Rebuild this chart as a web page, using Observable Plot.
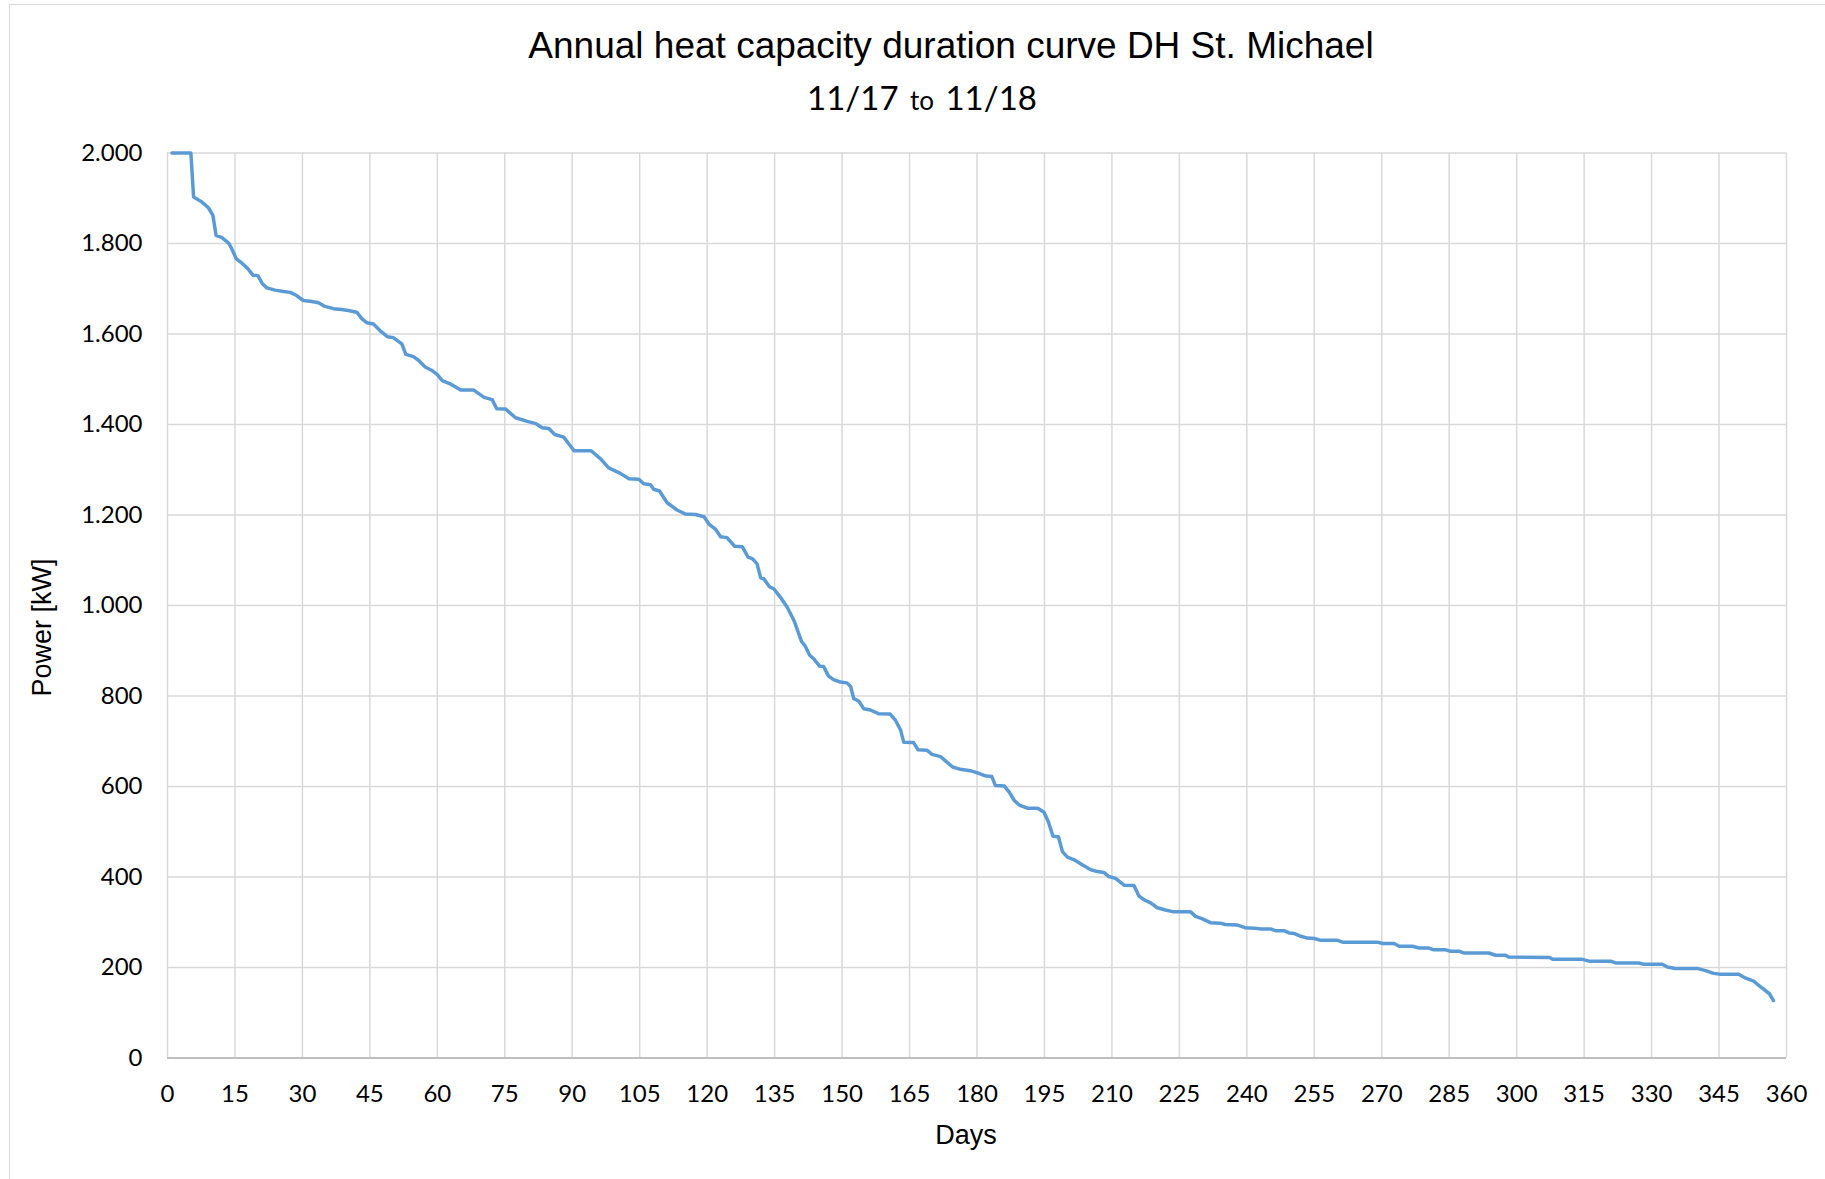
<!DOCTYPE html>
<html>
<head>
<meta charset="utf-8">
<script src="https://cdn.jsdelivr.net/npm/d3@7"></script>
<script src="https://cdn.jsdelivr.net/npm/@observablehq/plot@0.6"></script>
<style>
  html, body { margin: 0; padding: 0; background: #fff; width: 1825px; height: 1179px; overflow: hidden; }
  #frame { position: absolute; left: 9px; top: 4px; width: 1900px; height: 1300px; border-left: 1.5px solid #d9d9d9; border-top: 1.5px solid #d9d9d9; box-sizing: border-box; }
  #title { position: absolute; left: 351px; width: 1200px; top: 27px; text-align: center; white-space: nowrap;
           font-family: "Liberation Sans", Arial, sans-serif; font-size: 37px; line-height: 37px; color: #000; }
  #subtitle { position: absolute; left: 522px; width: 800px; top: 80px; text-align: center; white-space: nowrap;
              font-family: Lato, "Open Sans", sans-serif; font-size: 33px; line-height: 34px; color: #000; word-spacing: 3px; }
  #subtitle .small { font-size: 26px; }
  #chart { position: absolute; left: 0; top: 125px; }
</style>
</head>
<body>
<div id="frame"></div>
<div id="title">Annual heat capacity duration curve DH St. Michael</div>
<div id="subtitle">11/17 <span class="small">to</span> 11/18</div>
<div id="chart"></div>
<script>
// Duration curve (day, power in kW)
const days = [
  1, 5.2, 5.8, 7.6, 9.1, 10.1, 10.8, 12.1, 13.6, 14.3, 15.3, 16.5, 17.8, 19, 20.1, 21.1, 22.1, 23.9, 25.8, 27.3,
  28.7, 30.2, 32.1, 33.6, 35, 36.9, 38.7, 40.2, 42.1, 43.2, 44.3, 45.8, 47.3, 48.9, 50.2, 52.1, 53, 54.7, 55.8, 57.3,
  58.7, 60, 61.1, 63, 65.2, 68.1, 70.4, 72.2, 73.2, 75.2, 77.4, 80, 81.9, 83.3, 84.8, 86.1, 88.1, 90.4, 94.2, 96.3,
  98.1, 100.7, 102.6, 104.8, 105.9, 107.4, 108.1, 109.4, 111.1, 113.3, 115.2, 117.4, 119.3, 120.4, 121.9, 123, 124.4, 126.1, 127.8, 129.1,
  130.1, 131.1, 131.9, 132.6, 133.9, 134.8, 136.3, 137.8, 139.3, 141, 141.7, 142.8, 143.7, 145, 145.9, 147, 148.1, 149.6, 151.1, 151.9,
  152.6, 153.7, 154.8, 156.3, 158.1, 160.7, 161.9, 163, 163.7, 165.9, 166.9, 168.9, 170, 171.9, 173.3, 174.6, 176.3, 178.5, 180.1, 182,
  183.3, 184.1, 186.1, 187.2, 188.3, 189.4, 191.2, 193.5, 194.9, 195.9, 196.9, 198.1, 199, 200.1, 201.6, 203.4, 205.3, 206.8, 208.2, 209.3,
  210.8, 212.7, 214.9, 216, 217.1, 218.6, 220.1, 221.9, 223.8, 227.5, 228.6, 230, 231.9, 234.1, 235.2, 237.8, 239.6, 241.7, 243.2, 245.4,
  246.5, 248.4, 249.5, 250.6, 252, 253.5, 255, 256.5, 260.2, 261.3, 269, 270.2, 272.7, 273.9, 276.8, 278.3, 280.5, 281.6, 284.2, 285.3,
  287.2, 288.3, 293.8, 295.3, 297.5, 298.2, 307.3, 308, 314.6, 316.1, 320.9, 322, 327.2, 328.3, 332.4, 333.5, 335.3, 340.1, 342, 343.8,
  345.3, 349.4, 350.8, 352.7, 353.4, 354.9, 356.2, 357.1
];
const power = [
  2000, 2000, 1903, 1892, 1879, 1862, 1818, 1813, 1801, 1788, 1766, 1757, 1745, 1730, 1729, 1711, 1702, 1697, 1694, 1692,
  1685, 1674, 1672, 1669, 1661, 1656, 1654, 1652, 1648, 1634, 1625, 1622, 1607, 1594, 1592, 1578, 1555, 1550, 1542, 1527,
  1520, 1510, 1497, 1489, 1476, 1476, 1460, 1455, 1435, 1434, 1415, 1407, 1402, 1393, 1391, 1378, 1372, 1342, 1342, 1324,
  1304, 1292, 1280, 1279, 1269, 1267, 1257, 1253, 1227, 1211, 1202, 1201, 1196, 1180, 1168, 1152, 1150, 1131, 1130, 1107,
  1103, 1092, 1061, 1059, 1041, 1037, 1018, 996, 967, 920, 912, 890, 882, 866, 865, 844, 836, 831, 829, 821,
  794, 789, 772, 769, 761, 760, 746, 725, 698, 697, 681, 680, 671, 666, 654, 643, 638, 635, 630, 623,
  622, 602, 601, 587, 569, 559, 552, 552, 543, 521, 490, 489, 456, 444, 438, 427, 416, 412, 410, 401,
  397, 382, 381, 358, 350, 343, 332, 327, 323, 323, 313, 308, 299, 298, 295, 294, 288, 287, 285, 285,
  281, 281, 276, 275, 269, 265, 264, 260, 260, 256, 256, 253, 253, 247, 247, 243, 243, 239, 239, 236,
  236, 232, 232, 227, 227, 223, 222, 218, 218, 214, 214, 210, 210, 207, 207, 201, 198, 198, 193, 187,
  185, 185, 177, 170, 164, 152, 142, 127
];
const xTicks = [0, 15, 30, 45, 60, 75, 90, 105, 120, 135, 150, 165, 180, 195, 210, 225, 240, 255, 270, 285, 300, 315, 330, 345, 360];
const yTicks = [0, 200, 400, 600, 800, 1000, 1200, 1400, 1600, 1800, 2000];
const xLabel = "Days";
const yLabel = "Power [kW]";

const curve = days.map((d, i) => ({day: d, power: power[i]}));
const fmt = d3.formatLocale({decimal: ",", thousands: ".", grouping: [3], currency: ["", ""]}).format(",.0f");

const chart = Plot.plot({
  width: 1825,
  height: 1054,
  marginLeft: 167,
  marginRight: 39,
  marginTop: 27.5,
  marginBottom: 121.5,
  style: {fontFamily: "Lato, 'Open Sans', sans-serif", background: "transparent", color: "#000"},
  x: {domain: [0, 360]},
  y: {domain: [0, 2000]},
  marks: [
    Plot.gridX(xTicks, {stroke: "#d9d9d9", strokeOpacity: 1, strokeWidth: 1.5}),
    Plot.gridY(yTicks, {stroke: "#d9d9d9", strokeOpacity: 1, strokeWidth: 1.5}),
    Plot.ruleY([0], {stroke: "#bfbfbf", strokeWidth: 2}),
    Plot.axisX(xTicks, {tickSize: 0, tickPadding: 27, fontSize: 24, fill: "#000", label: null}),
    Plot.axisY(yTicks, {tickSize: 0, tickPadding: 25, fontSize: 24, fill: "#000", tickFormat: fmt, label: null}),
    Plot.line(curve, {x: "day", y: "power", stroke: "#5b9bd5", strokeWidth: 3.5, strokeLinejoin: "round", strokeLinecap: "round"}),
    Plot.text([xLabel], {frameAnchor: "bottom", dy: 77, dx: -11, lineAnchor: "middle", fontSize: 27,
      fontFamily: "'Liberation Sans', Arial, sans-serif", fill: "#000"}),
    Plot.text([yLabel], {frameAnchor: "left", dx: -125, dy: 22, rotate: -90, lineAnchor: "middle", textAnchor: "middle", fontSize: 27,
      fontFamily: "'Liberation Sans', Arial, sans-serif", fill: "#000"})
  ]
});
document.getElementById("chart").appendChild(chart);
</script>
</body>
</html>
